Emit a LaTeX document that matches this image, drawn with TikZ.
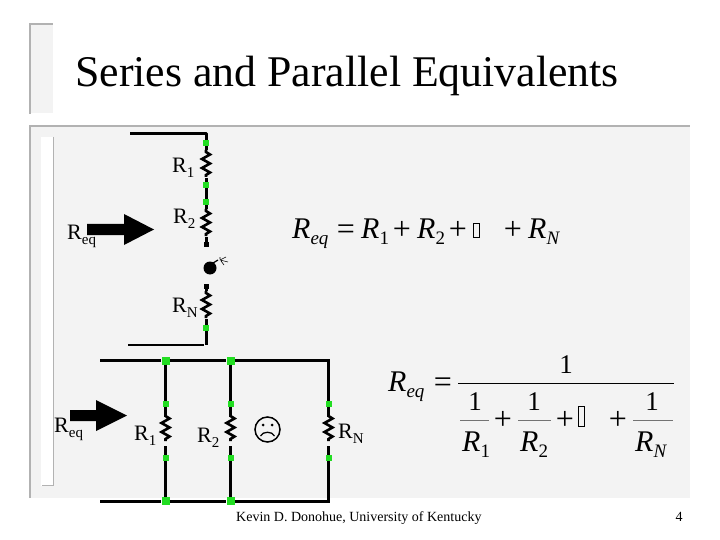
\documentclass[tikz,border=0pt]{standalone}
\usepackage{fontspec}
\setmainfont{Liberation Serif}
\usepackage{xcolor}
\usepackage{tikz}

\definecolor{panelgray}{HTML}{F3F3F3}
\definecolor{edgegray}{HTML}{B2B2B2}
\definecolor{dotgreen}{HTML}{22DD22}

\tikzset{
  wire/.style={line width=3pt,line cap=butt,line join=miter},
  edgeline/.style={edgegray,line width=1.6pt},
  dotsmall/.style={fill=dotgreen,inner sep=0pt,minimum size=6pt},
  dotbig/.style={fill=dotgreen,inner sep=0pt,minimum size=8pt},
  endsq/.style={fill=black,inner sep=0pt,minimum size=5pt},
  lab/.style={anchor=base west,inner sep=0pt,font=\fontsize{22}{22}\selectfont},
  eqn/.style={anchor=base west,inner sep=0pt,font=\fontsize{30}{30}\selectfont},
  eqsign/.style={anchor=base,inner sep=0pt,font=\fontsize{32}{32}\selectfont},
  eqone/.style={anchor=base,inner sep=0pt,font=\fontsize{27}{27}\selectfont},
  misssq/.style={draw=black,line width=1pt,inner sep=0pt,minimum width=6pt},
  fracbar/.style={black!55,line width=0.8pt}
}
\newcommand{\labsub}[1]{\raisebox{-5pt}{\fontsize{15}{15}\selectfont #1}}
\newcommand{\eqsub}[1]{\raisebox{-6pt}{\fontsize{19}{19}\selectfont #1}}
\newcommand{\zigres}[1]{%
  \draw[wire,line width=2.6pt] (#1) -- ++(0,2) -- ++(4,2.5) -- ++(-8,4.5) -- ++(8,4.5) -- ++(-8,4.5) -- ++(8,4.5) -- ++(-4,2.5) -- ++(0,2);}

\begin{document}
\begin{tikzpicture}[x=1pt,y=-1pt]
    \useasboundingbox (0,0) rectangle (720,540);

    % Panels
    \fill[panelgray] (30,24) rectangle (53,113);
    \draw[edgeline] (30,114) -- (30,24) -- (53,24);
    \fill[panelgray] (30,126) rectangle (690,498);
    \draw[edgeline] (30,498) -- (30,126) -- (690,126);
    \fill[white] (41,137) rectangle (54,486);
    \draw[edgeline] (53.5,137) -- (53.5,485.5) -- (42,485.5);

    % Title
    \node[anchor=base west,inner sep=0pt,font=\fontsize{43.8}{44}\selectfont] (title) at (75,87) {Series and Parallel Equivalents};

    % Series coordinates
    \coordinate (stopl) at (130,134);
    \coordinate (scorner) at (206,134);
    \node[dotsmall] (sa) at (206,143) {};
    \coordinate (r1in) at (206,150);
    \coordinate (r1out) at (206,178);
    \node[dotsmall] (sb) at (206,185) {};
    \node[dotsmall] (sc) at (206,202) {};
    \coordinate (r2in) at (206,209);
    \coordinate (r2out) at (206,237);
    \node[endsq] (sd) at (206,244.5) {};
    \node[endsq] (se) at (206,286) {};
    \coordinate (r3in) at (206,291);
    \coordinate (r3out) at (206,319);
    \node[dotsmall] (sf) at (206,328) {};
    \coordinate (sbot) at (206,345);
    \coordinate (sbotl) at (128,345);
    \coordinate (sbotr) at (204,345);

    \draw[wire,line join=round] (stopl) -- (scorner) -- (sa);
    \draw[wire] (sa) -- (r1in);
    \draw[wire] (r1out) -- (sb);
    \draw[wire] (sb) -- (sc);
    \draw[wire] (sc) -- (r2in);
    \draw[wire] (r2out) -- (sd);
    \draw[wire] (se) -- (r3in);
    \draw[wire] (r3out) -- (sf);
    \draw[wire] (sf) -- (sbot);
    \draw[line width=2pt] (sbotl) -- (sbotr);
    \zigres{r1in}
    \zigres{r2in}
    \zigres{r3in}

    % Bomb
    \fill (210,268) circle (6.5);
    \draw[line width=1.2pt] (213,263) -- (218,260);
    \draw[line width=0.6pt] (220,260) -- (226,257) (220,260) -- (228,262) (221,261) -- (224,265) (220,259) -- (220,257);

    % Parallel coordinates
    \coordinate (ptopl) at (100,360.5);
    \coordinate (pbotl) at (100,501);
    \coordinate (ptopr) at (328.5,360.5);
    \coordinate (pbotr) at (328.5,501);
    \node[dotbig] (pa) at (165.5,360.5) {};
    \node[dotbig] (pb) at (230.5,360.5) {};
    \node[dotbig] (pc) at (165.5,501) {};
    \node[dotbig] (pd) at (230.5,501) {};
    \node[dotsmall] (qa) at (165.5,404) {};
    \node[dotsmall] (qb) at (165.5,458) {};
    \node[dotsmall] (qc) at (230.5,404) {};
    \node[dotsmall] (qd) at (230.5,458) {};
    \node[dotsmall] (qe) at (328.5,404) {};
    \node[dotsmall] (qf) at (328.5,458) {};
    \coordinate (z1) at (165.5,414);
    \coordinate (z2) at (230.5,414);
    \coordinate (z3) at (328.5,414);

    \draw[wire] (ptopl) -- (pa);
    \draw[wire] (pa) -- (pb);
    \draw[wire] (pb) -- (ptopr) -- (qe);
    \draw[wire] (pbotl) -- (pc);
    \draw[wire] (pc) -- (pd);
    \draw[wire] (pd) -- (pbotr) -- (qf);
    \draw[wire] (pa) -- (qa);
    \draw[wire] (pb) -- (qc);
    \draw[wire] (qb) -- (pc);
    \draw[wire] (qd) -- (pd);
    \draw[wire] (qa) -- (z1);
    \draw[wire] (qc) -- (z2);
    \draw[wire] (qe) -- (z3);
    \foreach \n in {qb,qd,qf} \draw[wire] (\n) -- ++(0,-12);
    \zigres{z1}
    \zigres{z2}
    \zigres{z3}

    % Sad face
    \draw[line width=1.5pt] (267.5,429.5) circle (12.5);
    \fill (263,425) circle (1.5) (272,425) circle (1.5);
    \draw[line width=1.3pt] (260.5,436) .. controls (263,431) and (272,431) .. (274.5,436);

    % Arrows
    \coordinate (arra) at (87,229.5);
    \coordinate (arrb) at (70,415.5);
    \fill (arra) ++(0,-5.5) -- ++(37,0) -- ++(0,-10) -- ++(30,15.5) -- ++(-30,15.5) -- ++(0,-10) -- ++(-37,0) -- cycle;
    \fill (arrb) ++(0,-5.5) -- ++(26,0) -- ++(0,-10) -- ++(31,15.5) -- ++(-31,15.5) -- ++(0,-10) -- ++(-26,0) -- cycle;

    % Labels
    \node[lab] (lr1) at (172,173) {R\labsub{1}};
    \node[lab] (lr2) at (173,224) {R\labsub{2}};
    \node[lab] (lrn) at (172,312) {R\labsub{N}};
    \node[lab] (leqa) at (67,240) {R\labsub{eq}};
    \node[lab] (leqb) at (54,432) {R\labsub{eq}};
    \node[lab] (lp1) at (134,440) {R\labsub{1}};
    \node[lab] (lp2) at (197,442) {R\labsub{2}};
    \node[lab] (lpn) at (338,438) {R\labsub{N}};

    % Series equation
    \node[eqn] (ea) at (292,238) {\textit{R}\eqsub{\textit{eq}}};
    \node[eqsign] (eb) at (346,240) {=};
    \node[eqn] (ec) at (361,238) {\textit{R}\eqsub{1}};
    \node[eqsign] (ed) at (402,240) {+};
    \node[eqn] (ee) at (417,238) {\textit{R}\eqsub{2}};
    \node[eqsign] (ef) at (458,240) {+};
    \node[misssq,minimum height=13pt] (eg) at (476,230.5) {};
    \node[eqsign] (eh) at (513,240) {+};
    \node[eqn] (ei) at (528,238) {\textit{R}\eqsub{\textit{N}}};

    % Parallel equation
    \node[eqn] (fa) at (388,391) {\textit{R}\eqsub{\textit{eq}}};
    \node[eqsign] (fb) at (443,392) {=};
    \node[eqone] (fc) at (566,373) {1};
    \coordinate (bara) at (458,383);
    \coordinate (barb) at (674,383);
    \draw[line width=1pt] (bara) -- (barb);

    \node[eqone] (ga) at (475,410) {1};
    \draw[fracbar] (460,420) -- (489,420);
    \node[eqn] (gb) at (462,451) {\textit{R}\eqsub{1}};
    \node[eqsign] (gc) at (503,429) {+};
    \node[eqone] (gd) at (534,410) {1};
    \draw[fracbar] (518,420) -- (551,420);
    \node[eqn] (ge) at (520,451) {\textit{R}\eqsub{2}};
    \node[eqsign] (gf) at (565,429) {+};
    \node[misssq,minimum height=20pt] (gg) at (581.5,416.5) {};
    \node[eqsign] (gh) at (618,429) {+};
    \node[eqone] (gi) at (652,410) {1};
    \draw[fracbar] (633,420) -- (673,420);
    \node[eqn] (gj) at (635,451) {\textit{R}\eqsub{\textit{N}}};

    % Footer
    \node[anchor=base west,inner sep=0pt,font=\fontsize{14}{14}\selectfont] (foot) at (236,521) {Kevin D. Donohue, University of Kentucky};
    \node[anchor=base,inner sep=0pt,font=\fontsize{14}{14}\selectfont] (pagenum) at (679,521) {4};
\end{tikzpicture}
\end{document}
